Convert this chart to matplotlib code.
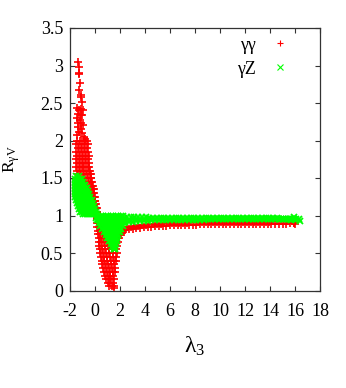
import matplotlib
matplotlib.use("Agg")
import matplotlib.pyplot as plt

plt.rcParams['font.family'] = ['Liberation Serif', 'DejaVu Serif']
plt.rcParams['mathtext.fontset'] = 'custom'
plt.rcParams['mathtext.rm'] = 'Liberation Serif'
plt.rcParams['mathtext.it'] = 'Liberation Serif'
plt.rcParams['mathtext.bf'] = 'Liberation Serif:bold'

# ---------------- data ----------------
series_labels = ['γγ', 'γZ']
x_ticks = [-2, 0, 2, 4, 6, 8, 10, 12, 14, 16, 18]
x_tick_labels = ['-2', '0', '2', '4', '6', '8', '10', '12', '14', '16', '18']
y_ticks = [0, 0.5, 1, 1.5, 2, 2.5, 3, 3.5]
y_tick_labels = ['0', '0.5', '1', '1.5', '2', '2.5', '3', '3.5']

# gamma-gamma: sparse top of the spike (lambda3, R)
gg_top = [(-1.39, 3.05), (-1.31, 2.98), (-1.26, 2.90), (-1.28, 2.89), (-1.20, 2.77),
          (-1.26, 2.67), (-1.12, 2.58), (-1.10, 2.61), (-1.02, 2.52), (-1.47, 2.44),
          (-1.31, 2.41), (-0.99, 2.41), (-1.15, 2.42), (-1.36, 2.36), (-1.12, 2.34),
          (-1.02, 2.34), (-1.39, 2.23), (-1.15, 2.23), (-0.94, 2.21), (-1.28, 2.12),
          (-1.02, 2.10), (-0.88, 2.05), (-1.45, 2.30), (-1.20, 2.28), (-1.33, 2.18),
          (-1.10, 2.15), (-1.42, 2.08), (-0.80, 2.02)]

# gamma-gamma: dense spike, rows of (R, [lambda3 ...])
gg_spike = [
    (2.00, [-1.42, -1.18, -0.92, -0.68]),
    (1.95, [-1.50, -1.30, -1.05, -0.80, -0.60]),
    (1.90, [-1.40, -1.15, -0.90, -0.66]),
    (1.85, [-1.52, -1.28, -1.02, -0.78, -0.56]),
    (1.80, [-1.42, -1.18, -0.95, -0.70, -0.50]),
    (1.75, [-1.55, -1.30, -1.06, -0.82, -0.58]),
    (1.70, [-1.45, -1.20, -0.96, -0.72, -0.48]),
    (1.65, [-1.55, -1.32, -1.08, -0.85, -0.60, -0.45]),
    (1.60, [-1.45, -1.22, -0.98, -0.74, -0.52, -0.40]),
    (1.55, [-1.35, -1.10, -0.86, -0.62, -0.42, -0.34]),
    (1.50, [-1.25, -1.00, -0.78, -0.55, -0.36, -0.30]),
    (1.45, [-1.15, -0.92, -0.70, -0.48, -0.30, -0.24]),
    (1.40, [-1.05, -0.82, -0.62, -0.42, -0.24, -0.18]),
    (1.35, [-0.95, -0.75, -0.55, -0.36, -0.19, -0.12]),
    (1.30, [-0.85, -0.66, -0.47, -0.30, -0.14, -0.08]),
    (1.25, [-0.75, -0.57, -0.40, -0.24, -0.09, -0.03]),
    (1.20, [-0.50, -0.33, -0.18, -0.04, 0.02]),
    (1.15, [-0.40, -0.26, -0.12, 0.01, 0.07]),
    (1.10, [-0.30, -0.18, -0.06, 0.06, 0.12]),
    (1.05, [-0.20, -0.08, 0.03, 0.12, 0.17]),
    (1.00, [-0.05, 0.06, 0.15, 0.21]),
]

# gamma-gamma: the dip around lambda3 ~ 1.5
gg_dip = [
    (0.95, [0.12, 0.22]),
    (0.90, [0.15, 0.27]),
    (0.85, [0.18, 0.32, 0.42]),
    (0.80, [0.22, 0.36, 0.52]),
    (0.75, [0.26, 0.40, 0.60]),
    (0.70, [0.28, 0.45, 0.66, 0.85]),
    (0.65, [0.32, 0.50, 0.72, 0.95]),
    (0.60, [0.34, 0.54, 0.78, 1.02, 1.22, 1.62, 1.72]),
    (0.55, [0.36, 0.58, 0.82, 1.08, 1.32, 1.66]),
    (0.50, [0.40, 0.62, 0.88, 1.14, 1.40, 1.72]),
    (0.45, [0.46, 0.68, 0.92, 1.18, 1.44, 1.68]),
    (0.40, [0.52, 0.74, 0.98, 1.24, 1.50, 1.66]),
    (0.35, [0.58, 0.80, 1.04, 1.28, 1.54]),
    (0.30, [0.64, 0.86, 1.10, 1.34, 1.58]),
    (0.25, [0.72, 0.94, 1.16, 1.40, 1.62]),
    (0.20, [0.78, 1.00, 1.22, 1.46]),
    (0.15, [0.88, 1.08, 1.30, 1.52]),
    (0.10, [1.00, 1.20, 1.42]),
    (0.06, [1.15, 1.38, 1.55]),
    (0.03, [1.50]),
    (0.65, [1.68, 1.80]),
    (0.70, [1.75, 1.88]),
    (0.74, [1.85, 1.98, 2.10]),
    (0.78, [1.95, 2.10, 2.25]),
    (0.81, [2.05, 2.20, 2.35]),
]

# flat band for large lambda3
band_x = [2.4, 2.7, 3.0, 3.3, 3.6, 3.9, 4.2, 4.5, 4.8, 5.1,
          5.4, 5.7, 6.0, 6.3, 6.6, 6.9, 7.2, 7.5, 7.8, 8.1,
          8.4, 8.7, 9.0, 9.3, 9.6, 9.9, 10.2, 10.5, 10.8, 11.1,
          11.4, 11.7, 12.0, 12.3, 12.6, 12.9, 13.2, 13.5, 13.8, 14.1,
          14.4, 14.7, 15.0, 15.3, 15.6, 15.9]
band_x2 = [2.55, 2.85, 3.15, 3.45, 3.75, 4.05, 4.35, 4.65, 4.95, 5.25,
           5.55, 5.85, 6.15, 6.45, 6.75, 7.05, 7.35, 7.65, 7.95, 8.25,
           8.55, 8.85, 9.15, 9.45, 9.75, 10.05, 10.35, 10.65, 10.95, 11.25,
           11.55, 11.85, 12.15, 12.45, 12.75, 13.05, 13.35, 13.65, 13.95, 14.25,
           14.55, 14.85, 15.15, 15.45, 15.75]

gg_band_low = [0.810, 0.818, 0.826, 0.832, 0.838, 0.845, 0.848, 0.853, 0.857, 0.860,
               0.862, 0.866, 0.868, 0.870, 0.872, 0.874, 0.876, 0.878, 0.879, 0.880,
               0.881, 0.882, 0.883, 0.884, 0.885, 0.886, 0.886, 0.887, 0.888, 0.888,
               0.889, 0.889, 0.890, 0.890, 0.890, 0.891, 0.891, 0.891, 0.892, 0.892,
               0.892, 0.893, 0.893, 0.893, 0.894, 0.894]
gg_band_high = [0.845, 0.852, 0.860, 0.866, 0.872, 0.877, 0.881, 0.885, 0.888, 0.891,
                0.894, 0.897, 0.899, 0.901, 0.903, 0.905, 0.906, 0.907, 0.908, 0.909,
                0.910, 0.911, 0.912, 0.913, 0.914, 0.914, 0.915, 0.916, 0.916, 0.917,
                0.917, 0.918, 0.918, 0.919, 0.919, 0.919, 0.920, 0.920, 0.920, 0.921,
                0.921, 0.921, 0.922, 0.922, 0.922]
gg_end = [(15.95, 0.90), (16.0, 0.885)]

# gamma-Z: spike at negative lambda3
gz_spike = [
    (1.53, [-1.50, -1.30]),
    (1.49, [-1.58, -1.40, -1.22, -1.08]),
    (1.45, [-1.62, -1.46, -1.28, -1.10, -0.96]),
    (1.41, [-1.60, -1.44, -1.26, -1.08, -0.90, -0.80]),
    (1.37, [-1.62, -1.46, -1.28, -1.10, -0.92, -0.76, -0.68]),
    (1.33, [-1.60, -1.44, -1.26, -1.08, -0.90, -0.74, -0.60]),
    (1.29, [-1.62, -1.46, -1.28, -1.10, -0.92, -0.76, -0.60, -0.50]),
    (1.25, [-1.60, -1.44, -1.26, -1.08, -0.90, -0.74, -0.58, -0.42]),
    (1.21, [-1.56, -1.40, -1.22, -1.04, -0.86, -0.70, -0.54, -0.38, -0.28]),
    (1.17, [-1.48, -1.32, -1.14, -0.96, -0.80, -0.64, -0.48, -0.32, -0.20]),
    (1.13, [-1.40, -1.24, -1.06, -0.90, -0.74, -0.58, -0.42, -0.26, -0.12]),
    (1.09, [-1.30, -1.14, -0.98, -0.82, -0.66, -0.50, -0.34, -0.18, -0.04]),
    (1.05, [-1.18, -1.02, -0.86, -0.70, -0.54, -0.38, -0.22, -0.06, 0.08]),
    (1.02, [-0.95, -0.78, -0.62, -0.46, -0.30, -0.14, 0.02, 0.14]),
]

# gamma-Z: wedge down to lambda3 ~ 1.5
gz_dip = [
    (0.995, [0.25, 0.45, 0.65, 0.85, 1.05, 1.25, 1.45, 1.65, 1.85, 2.05, 2.25]),
    (0.97, [0.10, 0.30, 0.50, 0.70, 0.90, 1.10, 1.30, 1.50, 1.70, 1.90, 2.10, 2.30]),
    (0.94, [0.15, 0.35, 0.55, 0.75, 0.95, 1.15, 1.35, 1.55, 1.75, 1.95, 2.15, 2.35]),
    (0.90, [0.28, 0.48, 0.68, 0.88, 1.08, 1.28, 1.48, 1.68, 1.88, 2.08, 2.28]),
    (0.86, [0.42, 0.62, 0.82, 1.02, 1.22, 1.42, 1.62, 1.82, 2.02, 2.20]),
    (0.82, [0.56, 0.76, 0.96, 1.16, 1.36, 1.56, 1.76, 1.96, 2.10]),
    (0.78, [0.70, 0.90, 1.10, 1.30, 1.50, 1.70, 1.90, 2.00]),
    (0.74, [0.84, 1.02, 1.20, 1.38, 1.56, 1.74, 1.86]),
    (0.70, [0.98, 1.15, 1.32, 1.50, 1.66, 1.78]),
    (0.66, [1.10, 1.27, 1.44, 1.60, 1.72]),
    (0.62, [1.24, 1.40, 1.55, 1.66]),
    (0.58, [1.36, 1.50, 1.60]),
    (0.55, [1.48, 1.56]),
]

gz_band_low = [0.912, 0.916, 0.920, 0.924, 0.928, 0.930, 0.932, 0.934, 0.936, 0.937,
               0.938, 0.939, 0.940, 0.941, 0.942, 0.943, 0.943, 0.944, 0.945, 0.945,
               0.946, 0.946, 0.947, 0.947, 0.948, 0.948, 0.948, 0.949, 0.949, 0.949,
               0.950, 0.950, 0.950, 0.950, 0.951, 0.951, 0.951, 0.951, 0.951, 0.952,
               0.952, 0.952, 0.952, 0.952, 0.952, 0.952]
gz_band_mid = [0.944, 0.946, 0.948, 0.949, 0.950, 0.951, 0.952, 0.952, 0.953, 0.953,
               0.954, 0.954, 0.954, 0.955, 0.955, 0.955, 0.955, 0.955, 0.956, 0.956,
               0.956, 0.956, 0.956, 0.956, 0.956, 0.956, 0.956, 0.956, 0.956, 0.956,
               0.956, 0.956, 0.956, 0.956, 0.956, 0.956, 0.956, 0.956, 0.956, 0.956,
               0.956, 0.956, 0.956, 0.956, 0.956, 0.956]
gz_band_high = [0.975, 0.975, 0.975, 0.974, 0.974, 0.974, 0.973, 0.973, 0.972, 0.972,
                0.971, 0.971, 0.970, 0.970, 0.969, 0.969, 0.968, 0.968, 0.967, 0.967,
                0.966, 0.966, 0.966, 0.965, 0.965, 0.965, 0.964, 0.964, 0.964, 0.963,
                0.963, 0.963, 0.963, 0.962, 0.962, 0.962, 0.962, 0.961, 0.961, 0.961,
                0.961, 0.960, 0.960, 0.960, 0.960]
gz_end = [(15.95, 0.975), (16.05, 0.95), (16.35, 0.96), (16.40, 0.93), (15.70, 0.935)]


def rows_to_xy(rows):
    xs, ys = [], []
    for yv, row in rows:
        for xv in row:
            xs.append(xv)
            ys.append(yv)
    return xs, ys


def pairs_to_xy(pairs):
    return [p[0] for p in pairs], [p[1] for p in pairs]


# assemble series
gg_x, gg_y = [], []
for part in (pairs_to_xy(gg_top), rows_to_xy(gg_spike), rows_to_xy(gg_dip),
             (band_x, gg_band_low), (band_x2, gg_band_high), pairs_to_xy(gg_end)):
    gg_x += list(part[0])
    gg_y += list(part[1])

gz_x, gz_y = [], []
for part in (rows_to_xy(gz_spike), rows_to_xy(gz_dip), (band_x, gz_band_low),
             (band_x, gz_band_mid), (band_x2, gz_band_high), pairs_to_xy(gz_end)):
    gz_x += list(part[0])
    gz_y += list(part[1])

# ---------------- figure ----------------
fig = plt.figure(figsize=(3.46, 3.88), dpi=100)
ax = fig.add_axes([70 / 346, 1 - 290.5 / 388, 250 / 346, 262.5 / 388])

ax.plot(gg_x, gg_y, linestyle='none', marker='+', color='#ff0000',
        markersize=5.5, markeredgewidth=1.2, label=series_labels[0])
ax.plot(gz_x, gz_y, linestyle='none', marker='x', color='#00ff00',
        markersize=4.6, markeredgewidth=1.3, label=series_labels[1])

ax.set_xlim(-2, 18)
ax.set_ylim(0, 3.5)
ax.set_xticks(x_ticks)
ax.set_xticklabels(x_tick_labels)
ax.set_yticks(y_ticks)
ax.set_yticklabels(y_tick_labels)

ax.tick_params(direction='in', top=True, right=True, length=3.5, width=0.8,
               color='#333333', labelsize=13)
ax.tick_params(axis='x', pad=9)
ax.tick_params(axis='y', pad=5)
for s in ax.spines.values():
    s.set_color('#333333')
    s.set_linewidth(0.9)

ax.set_xlabel(r'$\lambda_3$', fontsize=17)
ax.xaxis.set_label_coords(0.5, -0.17)
ax.set_ylabel(r'R$_{\gamma \mathrm{V}}$', fontsize=12.5)
ax.yaxis.set_label_coords(-0.19, 0.5)

leg = ax.legend(loc='upper right', bbox_to_anchor=(1.0, 1.05), frameon=False,
                markerfirst=False, fontsize=13, numpoints=1,
                handlelength=2.0, handletextpad=0.35, borderaxespad=0.8,
                borderpad=0.4, labelspacing=0.4)
for h in leg.legend_handles:
    h.set_markersize(4.5)
    h.set_markeredgewidth(0.8)

fig.savefig('out.png', dpi=100)
